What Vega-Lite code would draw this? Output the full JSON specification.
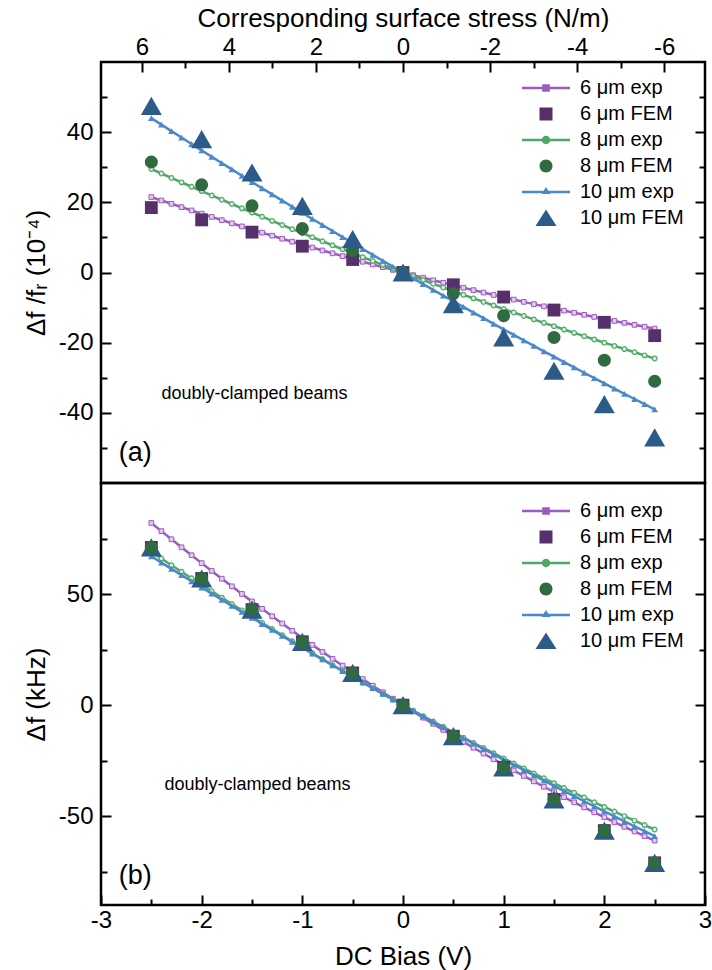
{
  "$schema": "https://vega.github.io/schema/vega-lite/v6.json",
  "background": "white",
  "padding": {"left": 22, "top": 3, "right": 0, "bottom": 0},
  "spacing": 0,
  "bounds": "flush",
  "config": {
    "font": "Liberation Sans",
    "view": {"stroke": "black", "strokeWidth": 2.5},
    "concat": {"spacing": 0},
    "axis": {"grid": false, "domain": false, "tickColor": "black", "tickWidth": 2, "labelFont": "Liberation Sans", "labelFontSize": 24, "labelColor": "black", "labelFlush": false, "labelOverlap": false, "titleFont": "Liberation Sans", "titleFontSize": 26, "titleFontWeight": "normal", "titleColor": "black"},
    "legend": {"labelFont": "Liberation Sans", "labelFontSize": 20, "labelColor": "black"}
  },
  "datasets": {
    "exp": [
      {"v": -2.5, "a6": 21.5, "a8": 29.5, "a10": 44.0, "b6": 82.0, "b8": 69.0, "b10": 67.0},
      {"v": -2.4, "a6": 20.53, "a8": 28.22, "a10": 42.14, "b6": 78.32, "b8": 65.99, "b10": 64.17},
      {"v": -2.3, "a6": 19.58, "a8": 26.96, "a10": 40.3, "b6": 74.67, "b8": 63.0, "b10": 61.35},
      {"v": -2.2, "a6": 18.63, "a8": 25.7, "a10": 38.46, "b6": 71.05, "b8": 60.03, "b10": 58.54},
      {"v": -2.1, "a6": 17.69, "a8": 24.44, "a10": 36.62, "b6": 67.47, "b8": 57.09, "b10": 55.74},
      {"v": -2.0, "a6": 16.76, "a8": 23.2, "a10": 34.8, "b6": 63.92, "b8": 54.16, "b10": 52.96},
      {"v": -1.9, "a6": 15.84, "a8": 21.96, "a10": 32.98, "b6": 60.4, "b8": 51.25, "b10": 50.19},
      {"v": -1.8, "a6": 14.93, "a8": 20.74, "a10": 31.18, "b6": 56.92, "b8": 48.37, "b10": 47.43},
      {"v": -1.7, "a6": 14.02, "a8": 19.52, "a10": 29.38, "b6": 53.48, "b8": 45.51, "b10": 44.69},
      {"v": -1.6, "a6": 13.13, "a8": 18.3, "a10": 27.58, "b6": 50.06, "b8": 42.66, "b10": 41.96},
      {"v": -1.5, "a6": 12.24, "a8": 17.1, "a10": 25.8, "b6": 46.68, "b8": 39.84, "b10": 39.24},
      {"v": -1.4, "a6": 11.36, "a8": 15.9, "a10": 24.02, "b6": 43.33, "b8": 37.04, "b10": 36.53},
      {"v": -1.3, "a6": 10.49, "a8": 14.72, "a10": 22.26, "b6": 40.02, "b8": 34.26, "b10": 33.84},
      {"v": -1.2, "a6": 9.63, "a8": 13.54, "a10": 20.5, "b6": 36.74, "b8": 31.5, "b10": 31.16},
      {"v": -1.1, "a6": 8.78, "a8": 12.36, "a10": 18.74, "b6": 33.49, "b8": 28.76, "b10": 28.49},
      {"v": -1.0, "a6": 7.94, "a8": 11.2, "a10": 17.0, "b6": 30.28, "b8": 26.04, "b10": 25.84},
      {"v": -0.9, "a6": 7.11, "a8": 10.04, "a10": 15.26, "b6": 27.1, "b8": 23.34, "b10": 23.2},
      {"v": -0.8, "a6": 6.28, "a8": 8.9, "a10": 13.54, "b6": 23.96, "b8": 20.67, "b10": 20.57},
      {"v": -0.7, "a6": 5.47, "a8": 7.76, "a10": 11.82, "b6": 20.84, "b8": 18.01, "b10": 17.95},
      {"v": -0.6, "a6": 4.66, "a8": 6.62, "a10": 10.1, "b6": 17.76, "b8": 15.37, "b10": 15.35},
      {"v": -0.5, "a6": 3.86, "a8": 5.5, "a10": 8.4, "b6": 14.72, "b8": 12.76, "b10": 12.76},
      {"v": -0.4, "a6": 3.07, "a8": 4.38, "a10": 6.7, "b6": 11.71, "b8": 10.17, "b10": 10.18},
      {"v": -0.3, "a6": 2.29, "a8": 3.28, "a10": 5.02, "b6": 8.73, "b8": 7.59, "b10": 7.62},
      {"v": -0.2, "a6": 1.52, "a8": 2.18, "a10": 3.34, "b6": 5.79, "b8": 5.04, "b10": 5.07},
      {"v": -0.1, "a6": 0.75, "a8": 1.08, "a10": 1.66, "b6": 2.88, "b8": 2.51, "b10": 2.53},
      {"v": 0.0, "a6": 0, "a8": 0, "a10": 0, "b6": 0, "b8": 0, "b10": 0},
      {"v": 0.1, "a6": -0.75, "a8": -1.08, "a10": -1.66, "b6": -2.84, "b8": -2.49, "b10": -2.51},
      {"v": 0.2, "a6": -1.48, "a8": -2.14, "a10": -3.3, "b6": -5.65, "b8": -4.96, "b10": -5.01},
      {"v": 0.3, "a6": -2.21, "a8": -3.2, "a10": -4.94, "b6": -8.43, "b8": -7.41, "b10": -7.5},
      {"v": 0.4, "a6": -2.93, "a8": -4.26, "a10": -6.58, "b6": -11.17, "b8": -9.83, "b10": -9.98},
      {"v": 0.5, "a6": -3.64, "a8": -5.3, "a10": -8.2, "b6": -13.88, "b8": -12.24, "b10": -12.44},
      {"v": 0.6, "a6": -4.34, "a8": -6.34, "a10": -9.82, "b6": -16.56, "b8": -14.63, "b10": -14.89},
      {"v": 0.7, "a6": -5.03, "a8": -7.36, "a10": -11.42, "b6": -19.2, "b8": -16.99, "b10": -17.33},
      {"v": 0.8, "a6": -5.72, "a8": -8.38, "a10": -13.02, "b6": -21.8, "b8": -19.33, "b10": -19.75},
      {"v": 0.9, "a6": -6.39, "a8": -9.4, "a10": -14.62, "b6": -24.38, "b8": -21.66, "b10": -22.16},
      {"v": 1.0, "a6": -7.06, "a8": -10.4, "a10": -16.2, "b6": -26.92, "b8": -23.96, "b10": -24.56},
      {"v": 1.1, "a6": -7.72, "a8": -11.4, "a10": -17.78, "b6": -29.43, "b8": -26.24, "b10": -26.95},
      {"v": 1.2, "a6": -8.37, "a8": -12.38, "a10": -19.34, "b6": -31.9, "b8": -28.5, "b10": -29.32},
      {"v": 1.3, "a6": -9.01, "a8": -13.36, "a10": -20.9, "b6": -34.34, "b8": -30.74, "b10": -31.68},
      {"v": 1.4, "a6": -9.64, "a8": -14.34, "a10": -22.46, "b6": -36.75, "b8": -32.96, "b10": -34.03},
      {"v": 1.5, "a6": -10.26, "a8": -15.3, "a10": -24.0, "b6": -39.12, "b8": -35.16, "b10": -36.36},
      {"v": 1.6, "a6": -10.87, "a8": -16.26, "a10": -25.54, "b6": -41.46, "b8": -37.34, "b10": -38.68},
      {"v": 1.7, "a6": -11.48, "a8": -17.2, "a10": -27.06, "b6": -43.76, "b8": -39.49, "b10": -40.99},
      {"v": 1.8, "a6": -12.07, "a8": -18.14, "a10": -28.58, "b6": -46.04, "b8": -41.63, "b10": -43.29},
      {"v": 1.9, "a6": -12.66, "a8": -19.08, "a10": -30.1, "b6": -48.28, "b8": -43.75, "b10": -45.57},
      {"v": 2.0, "a6": -13.24, "a8": -20.0, "a10": -31.6, "b6": -50.48, "b8": -45.84, "b10": -47.84},
      {"v": 2.1, "a6": -13.81, "a8": -20.92, "a10": -33.1, "b6": -52.65, "b8": -47.91, "b10": -50.1},
      {"v": 2.2, "a6": -14.37, "a8": -21.82, "a10": -34.58, "b6": -54.79, "b8": -49.97, "b10": -52.34},
      {"v": 2.3, "a6": -14.92, "a8": -22.72, "a10": -36.06, "b6": -56.89, "b8": -52.0, "b10": -54.57},
      {"v": 2.4, "a6": -15.47, "a8": -23.62, "a10": -37.54, "b6": -58.96, "b8": -54.01, "b10": -56.79},
      {"v": 2.5, "a6": -16.0, "a8": -24.5, "a10": -39.0, "b6": -61.0, "b8": -56.0, "b10": -59.0}
    ],
    "fem": [
      {"v": -2.5, "a6": 18.5, "a8": 31.5, "a10": 47.5, "b": 71},
      {"v": -2.0, "a6": 15.0, "a8": 25.0, "a10": 38.0, "b": 57},
      {"v": -1.5, "a6": 11.5, "a8": 19.0, "a10": 28.5, "b": 43},
      {"v": -1.0, "a6": 7.5, "a8": 12.5, "a10": 19.0, "b": 28.5},
      {"v": -0.5, "a6": 3.7, "a8": 6.3, "a10": 9.5, "b": 14.5},
      {"v": 0.0, "a6": 0, "a8": 0, "a10": 0, "b": 0},
      {"v": 0.5, "a6": -3.5, "a8": -6.0, "a10": -9.0, "b": -14},
      {"v": 1.0, "a6": -7.0, "a8": -12.3, "a10": -18.5, "b": -28},
      {"v": 1.5, "a6": -10.7, "a8": -18.5, "a10": -28.0, "b": -42.5},
      {"v": 2.0, "a6": -14.2, "a8": -25.0, "a10": -37.5, "b": -56.5},
      {"v": 2.5, "a6": -18.0, "a8": -31.0, "a10": -47.0, "b": -71}
    ]
  },
  "vconcat": [
    {
      "width": 604,
      "height": 421,
      "layer": [
        {
          "layer": [
            {
              "data": {"name": "exp"},
              "transform": [{"fold": ["a6"], "as": ["s", "y"]}],
              "mark": {"type": "line", "color": "#9b5bbf", "strokeWidth": 2.5},
              "encoding": {
                "x": {"field": "v", "type": "quantitative", "scale": {"domain": [-3, 3], "nice": false, "zero": false}, "axis": null},
                "y": {"field": "y", "type": "quantitative", "scale": {"domain": [-60, 60], "nice": false, "zero": false},
                  "axis": {"orient": "left", "title": "Δf /fᵣ (10⁻⁴)", "values": [-50, -40, -30, -20, -10, 0, 10, 20, 30, 40, 50],
                    "labelExpr": "datum.value % 20 == 0 ? '' + datum.value : ''",
                    "tickSize": {"condition": {"test": "datum.value % 20 == 0", "value": -10}, "value": -6},
                    "labelPadding": 18, "titlePadding": 9}}
              }
            },
            {
              "data": {"name": "exp"},
              "transform": [{"fold": ["a6"], "as": ["s", "y"]}],
              "mark": {"type": "point", "shape": "square", "size": 22, "filled": true, "fill": "#e3c9ee", "stroke": "#9b5bbf", "strokeWidth": 1, "opacity": 1},
              "encoding": {
                "x": {"field": "v", "type": "quantitative", "scale": {"domain": [-3, 3], "nice": false, "zero": false}, "axis": null},
                "y": {"field": "y", "type": "quantitative", "scale": {"domain": [-60, 60], "nice": false, "zero": false}, "axis": null}
              }
            },
            {
              "data": {"name": "exp"},
              "transform": [{"fold": ["a8"], "as": ["s", "y"]}],
              "mark": {"type": "line", "color": "#4fa868", "strokeWidth": 2.5},
              "encoding": {
                "x": {"field": "v", "type": "quantitative", "scale": {"domain": [-3, 3], "nice": false, "zero": false}, "axis": null},
                "y": {"field": "y", "type": "quantitative", "scale": {"domain": [-60, 60], "nice": false, "zero": false}, "axis": null}
              }
            },
            {
              "data": {"name": "exp"},
              "transform": [{"fold": ["a8"], "as": ["s", "y"]}],
              "mark": {"type": "point", "shape": "circle", "size": 22, "filled": true, "fill": "#d9efdf", "stroke": "#4fa868", "strokeWidth": 1.2, "opacity": 1},
              "encoding": {
                "x": {"field": "v", "type": "quantitative", "scale": {"domain": [-3, 3], "nice": false, "zero": false}, "axis": null},
                "y": {"field": "y", "type": "quantitative", "scale": {"domain": [-60, 60], "nice": false, "zero": false}, "axis": null}
              }
            },
            {
              "data": {"name": "exp"},
              "transform": [{"fold": ["a10"], "as": ["s", "y"]}],
              "mark": {"type": "line", "color": "#4b89c9", "strokeWidth": 2.5},
              "encoding": {
                "x": {"field": "v", "type": "quantitative", "scale": {"domain": [-3, 3], "nice": false, "zero": false}, "axis": null},
                "y": {"field": "y", "type": "quantitative", "scale": {"domain": [-60, 60], "nice": false, "zero": false}, "axis": null}
              }
            },
            {
              "data": {"name": "exp"},
              "transform": [{"fold": ["a10"], "as": ["s", "y"]}],
              "mark": {"type": "point", "shape": "triangle-up", "size": 45, "filled": true, "color": "#4b89c9", "opacity": 1},
              "encoding": {
                "x": {"field": "v", "type": "quantitative", "scale": {"domain": [-3, 3], "nice": false, "zero": false}, "axis": null},
                "y": {"field": "y", "type": "quantitative", "scale": {"domain": [-60, 60], "nice": false, "zero": false}, "axis": null}
              }
            },
            {
              "data": {"name": "fem"},
              "transform": [{"fold": ["a6"], "as": ["s", "y"]}],
              "mark": {"type": "point", "shape": "square", "size": 165, "filled": true, "color": "#55306b", "opacity": 1},
              "encoding": {
                "x": {"field": "v", "type": "quantitative", "scale": {"domain": [-3, 3], "nice": false, "zero": false}, "axis": null},
                "y": {"field": "y", "type": "quantitative", "scale": {"domain": [-60, 60], "nice": false, "zero": false}, "axis": null}
              }
            },
            {
              "data": {"name": "fem"},
              "transform": [{"fold": ["a8"], "as": ["s", "y"]}],
              "mark": {"type": "point", "shape": "circle", "size": 170, "filled": true, "color": "#2f6a40", "opacity": 1},
              "encoding": {
                "x": {"field": "v", "type": "quantitative", "scale": {"domain": [-3, 3], "nice": false, "zero": false}, "axis": null},
                "y": {"field": "y", "type": "quantitative", "scale": {"domain": [-60, 60], "nice": false, "zero": false}, "axis": null}
              }
            },
            {
              "data": {"name": "fem"},
              "transform": [{"fold": ["a10"], "as": ["s", "y"]}],
              "mark": {"type": "point", "shape": "triangle-up", "size": 440, "filled": true, "color": "#2d5b88", "opacity": 1},
              "encoding": {
                "x": {"field": "v", "type": "quantitative", "scale": {"domain": [-3, 3], "nice": false, "zero": false}, "axis": null},
                "y": {"field": "y", "type": "quantitative", "scale": {"domain": [-60, 60], "nice": false, "zero": false}, "axis": null}
              }
            },
            {
              "data": {"values": [{"label": "doubly-clamped beams"}]},
              "mark": {"type": "text", "align": "left", "baseline": "middle", "fontSize": 18, "font": "Liberation Sans", "color": "black"},
              "encoding": {
                "text": {"field": "label", "type": "nominal"},
                "x": {"datum": -2.4, "type": "quantitative", "scale": {"domain": [-3, 3], "nice": false, "zero": false}, "axis": null},
                "y": {"datum": -34.5, "type": "quantitative", "scale": {"domain": [-60, 60], "nice": false, "zero": false}, "axis": null}
              }
            },
            {
              "data": {"values": [{"label": "(a)"}]},
              "mark": {"type": "text", "align": "center", "baseline": "middle", "fontSize": 27, "font": "Liberation Sans", "color": "black"},
              "encoding": {
                "text": {"field": "label", "type": "nominal"},
                "x": {"datum": -2.66, "type": "quantitative", "scale": {"domain": [-3, 3], "nice": false, "zero": false}, "axis": null},
                "y": {"datum": -51.5, "type": "quantitative", "scale": {"domain": [-60, 60], "nice": false, "zero": false}, "axis": null}
              }
            },
            {
              "data": {"name": "fem"},
              "transform": [{"filter": "datum.v > 100"}],
              "mark": {"type": "point", "filled": true, "opacity": 1},
              "encoding": {
                "x": {"field": "v", "type": "quantitative", "scale": {"domain": [-3, 3], "nice": false, "zero": false}, "axis": null},
                "y": {"field": "y", "type": "quantitative", "scale": {"domain": [-60, 60], "nice": false, "zero": false},
                  "axis": {"orient": "right", "title": null, "labels": false, "values": [-50, -40, -30, -20, -10, 0, 10, 20, 30, 40, 50],
                    "tickSize": {"condition": {"test": "datum.value % 20 == 0", "value": -10}, "value": -6}}},
                "color": {"field": "series", "type": "nominal",
                  "scale": {"domain": ["6 μm exp", "6 μm FEM", "8 μm exp", "8 μm FEM", "10 μm exp", "10 μm FEM"],
                    "range": ["#9b5bbf", "#55306b", "#4fa868", "#2f6a40", "#4b89c9", "#2d5b88"]},
                  "legend": {"orient": "none", "legendX": 435, "legendY": 16, "title": null, "padding": 0, "symbolSize": 400, "labelOffset": 24, "labelFontSize": 20, "rowPadding": 6, "symbolStrokeWidth": 0, "labelLimit": 300}},
                "shape": {"field": "series", "type": "nominal",
                  "scale": {"domain": ["6 μm exp", "6 μm FEM", "8 μm exp", "8 μm FEM", "10 μm exp", "10 μm FEM"],
                    "range": [
                      "M-2.4,-0.12H2.4V0.12H-2.4Z M-0.38,-0.38H0.38V0.38H-0.38Z",
                      "M-0.65,-0.65H0.65V0.65H-0.65Z",
                      "M-2.4,-0.12H2.4V0.12H-2.4Z M0.42,0A0.42,0.42 0 1,1 -0.42,0A0.42,0.42 0 1,1 0.42,0Z",
                      "M0.65,0A0.65,0.65 0 1,1 -0.65,0A0.65,0.65 0 1,1 0.65,0Z",
                      "M-2.4,-0.12H2.4V0.12H-2.4Z M0,-0.5L0.45,0.2L-0.45,0.2Z",
                      "M0,-0.85L1.05,0.8L-1.05,0.8Z"
                    ]},
                  "legend": {"orient": "none", "legendX": 435, "legendY": 16, "title": null, "padding": 0, "symbolSize": 400, "labelOffset": 24, "labelFontSize": 20, "rowPadding": 6, "symbolStrokeWidth": 0, "labelLimit": 300}}
              }
            }
          ],
          "resolve": {"axis": {"x": "independent", "y": "independent"}}
        },
        {
          "data": {"name": "fem"},
          "transform": [{"filter": "datum.v > 100"}],
          "mark": {"type": "point", "opacity": 1},
          "encoding": {
            "x": {"field": "st", "type": "quantitative", "scale": {"domain": [-6.94, 6.94], "reverse": true, "nice": false, "zero": false},
              "axis": {"orient": "top", "title": "Corresponding surface stress (N/m)", "values": [-6, -5, -4, -3, -2, -1, 0, 1, 2, 3, 4, 5, 6],
                "labelExpr": "datum.value % 2 == 0 ? '' + datum.value : ''",
                "tickSize": {"condition": {"test": "datum.value % 2 == 0", "value": -10}, "value": -6},
                "labelPadding": 13, "titlePadding": 0}}
          }
        }
      ],
      "resolve": {"scale": {"x": "independent"}}
    },
    {
      "width": 604,
      "height": 422,
      "layer": [
        {
          "data": {"name": "exp"},
          "transform": [{"fold": ["b6"], "as": ["s", "y"]}],
          "mark": {"type": "line", "color": "#9b5bbf", "strokeWidth": 2.5},
          "encoding": {
            "x": {"field": "v", "type": "quantitative", "scale": {"domain": [-3, 3], "nice": false, "zero": false},
              "axis": {"orient": "bottom", "title": "DC Bias (V)", "values": [-3, -2.5, -2, -1.5, -1, -0.5, 0, 0.5, 1, 1.5, 2, 2.5, 3],
                "labelExpr": "datum.value % 1 == 0 ? '' + datum.value : ''",
                "tickSize": {"condition": {"test": "datum.value % 1 == 0", "value": -10}, "value": -6},
                "labelPadding": 13, "titlePadding": 7}},
            "y": {"field": "y", "type": "quantitative", "scale": {"domain": [-90, 100], "nice": false, "zero": false},
              "axis": {"orient": "left", "title": "Δf (kHz)", "values": [-75, -50, -25, 0, 25, 50, 75],
                "labelExpr": "datum.value % 50 == 0 ? '' + datum.value : ''",
                "tickSize": {"condition": {"test": "datum.value % 50 == 0", "value": -10}, "value": -6},
                "labelPadding": 18, "titlePadding": 9}}
          }
        },
        {
          "data": {"name": "exp"},
          "transform": [{"fold": ["b6"], "as": ["s", "y"]}],
          "mark": {"type": "point", "shape": "square", "size": 22, "filled": true, "fill": "#e3c9ee", "stroke": "#9b5bbf", "strokeWidth": 1, "opacity": 1},
          "encoding": {
            "x": {"field": "v", "type": "quantitative", "scale": {"domain": [-3, 3], "nice": false, "zero": false}, "axis": null},
            "y": {"field": "y", "type": "quantitative", "scale": {"domain": [-90, 100], "nice": false, "zero": false}, "axis": null}
          }
        },
        {
          "data": {"name": "exp"},
          "transform": [{"fold": ["b8"], "as": ["s", "y"]}],
          "mark": {"type": "line", "color": "#4fa868", "strokeWidth": 2.5},
          "encoding": {
            "x": {"field": "v", "type": "quantitative", "scale": {"domain": [-3, 3], "nice": false, "zero": false}, "axis": null},
            "y": {"field": "y", "type": "quantitative", "scale": {"domain": [-90, 100], "nice": false, "zero": false}, "axis": null}
          }
        },
        {
          "data": {"name": "exp"},
          "transform": [{"fold": ["b8"], "as": ["s", "y"]}],
          "mark": {"type": "point", "shape": "circle", "size": 22, "filled": true, "fill": "#d9efdf", "stroke": "#4fa868", "strokeWidth": 1.2, "opacity": 1},
          "encoding": {
            "x": {"field": "v", "type": "quantitative", "scale": {"domain": [-3, 3], "nice": false, "zero": false}, "axis": null},
            "y": {"field": "y", "type": "quantitative", "scale": {"domain": [-90, 100], "nice": false, "zero": false}, "axis": null}
          }
        },
        {
          "data": {"name": "exp"},
          "transform": [{"fold": ["b10"], "as": ["s", "y"]}],
          "mark": {"type": "line", "color": "#4b89c9", "strokeWidth": 2.5},
          "encoding": {
            "x": {"field": "v", "type": "quantitative", "scale": {"domain": [-3, 3], "nice": false, "zero": false}, "axis": null},
            "y": {"field": "y", "type": "quantitative", "scale": {"domain": [-90, 100], "nice": false, "zero": false}, "axis": null}
          }
        },
        {
          "data": {"name": "exp"},
          "transform": [{"fold": ["b10"], "as": ["s", "y"]}],
          "mark": {"type": "point", "shape": "triangle-up", "size": 45, "filled": true, "color": "#4b89c9", "opacity": 1},
          "encoding": {
            "x": {"field": "v", "type": "quantitative", "scale": {"domain": [-3, 3], "nice": false, "zero": false}, "axis": null},
            "y": {"field": "y", "type": "quantitative", "scale": {"domain": [-90, 100], "nice": false, "zero": false}, "axis": null}
          }
        },
        {
          "data": {"name": "fem"},
          "transform": [{"fold": ["b"], "as": ["s", "y"]}],
          "mark": {"type": "point", "shape": "square", "size": 165, "filled": true, "color": "#55306b", "opacity": 1},
          "encoding": {
            "x": {"field": "v", "type": "quantitative", "scale": {"domain": [-3, 3], "nice": false, "zero": false}, "axis": null},
            "y": {"field": "y", "type": "quantitative", "scale": {"domain": [-90, 100], "nice": false, "zero": false}, "axis": null}
          }
        },
        {
          "data": {"name": "fem"},
          "transform": [{"fold": ["b"], "as": ["s", "y"]}],
          "mark": {"type": "point", "shape": "triangle-up", "size": 440, "filled": true, "color": "#2d5b88", "opacity": 1},
          "encoding": {
            "x": {"field": "v", "type": "quantitative", "scale": {"domain": [-3, 3], "nice": false, "zero": false}, "axis": null},
            "y": {"field": "y", "type": "quantitative", "scale": {"domain": [-90, 100], "nice": false, "zero": false}, "axis": null}
          }
        },
        {
          "data": {"name": "fem"},
          "transform": [{"fold": ["b"], "as": ["s", "y"]}],
          "mark": {"type": "point", "shape": "circle", "size": 170, "filled": true, "color": "#2f6a40", "opacity": 1},
          "encoding": {
            "x": {"field": "v", "type": "quantitative", "scale": {"domain": [-3, 3], "nice": false, "zero": false}, "axis": null},
            "y": {"field": "y", "type": "quantitative", "scale": {"domain": [-90, 100], "nice": false, "zero": false}, "axis": null}
          }
        },
        {
          "data": {"values": [{"label": "doubly-clamped beams"}]},
          "mark": {"type": "text", "align": "left", "baseline": "middle", "fontSize": 18, "font": "Liberation Sans", "color": "black"},
          "encoding": {
            "text": {"field": "label", "type": "nominal"},
            "x": {"datum": -2.37, "type": "quantitative", "scale": {"domain": [-3, 3], "nice": false, "zero": false}, "axis": null},
            "y": {"datum": -36, "type": "quantitative", "scale": {"domain": [-90, 100], "nice": false, "zero": false}, "axis": null}
          }
        },
        {
          "data": {"values": [{"label": "(b)"}]},
          "mark": {"type": "text", "align": "center", "baseline": "middle", "fontSize": 27, "font": "Liberation Sans", "color": "black"},
          "encoding": {
            "text": {"field": "label", "type": "nominal"},
            "x": {"datum": -2.66, "type": "quantitative", "scale": {"domain": [-3, 3], "nice": false, "zero": false}, "axis": null},
            "y": {"datum": -77, "type": "quantitative", "scale": {"domain": [-90, 100], "nice": false, "zero": false}, "axis": null}
          }
        },
        {
          "data": {"name": "fem"},
          "transform": [{"filter": "datum.v > 100"}],
          "mark": {"type": "point", "filled": true, "opacity": 1},
          "encoding": {
            "x": {"field": "v", "type": "quantitative", "scale": {"domain": [-3, 3], "nice": false, "zero": false}, "axis": null},
            "y": {"field": "y", "type": "quantitative", "scale": {"domain": [-90, 100], "nice": false, "zero": false},
              "axis": {"orient": "right", "title": null, "labels": false, "values": [-75, -50, -25, 0, 25, 50, 75],
                "tickSize": {"condition": {"test": "datum.value % 50 == 0", "value": -10}, "value": -6}}},
            "color": {"field": "series", "type": "nominal",
              "scale": {"domain": ["6 μm exp", "6 μm FEM", "8 μm exp", "8 μm FEM", "10 μm exp", "10 μm FEM"],
                "range": ["#9b5bbf", "#55306b", "#4fa868", "#2f6a40", "#4b89c9", "#2d5b88"]},
              "legend": {"orient": "none", "legendX": 435, "legendY": 18, "title": null, "padding": 0, "symbolSize": 400, "labelOffset": 24, "labelFontSize": 20, "rowPadding": 6, "symbolStrokeWidth": 0, "labelLimit": 300}},
            "shape": {"field": "series", "type": "nominal",
              "scale": {"domain": ["6 μm exp", "6 μm FEM", "8 μm exp", "8 μm FEM", "10 μm exp", "10 μm FEM"],
                "range": [
                  "M-2.4,-0.12H2.4V0.12H-2.4Z M-0.38,-0.38H0.38V0.38H-0.38Z",
                  "M-0.65,-0.65H0.65V0.65H-0.65Z",
                  "M-2.4,-0.12H2.4V0.12H-2.4Z M0.42,0A0.42,0.42 0 1,1 -0.42,0A0.42,0.42 0 1,1 0.42,0Z",
                  "M0.65,0A0.65,0.65 0 1,1 -0.65,0A0.65,0.65 0 1,1 0.65,0Z",
                  "M-2.4,-0.12H2.4V0.12H-2.4Z M0,-0.5L0.45,0.2L-0.45,0.2Z",
                  "M0,-0.85L1.05,0.8L-1.05,0.8Z"
                ]},
              "legend": {"orient": "none", "legendX": 435, "legendY": 18, "title": null, "padding": 0, "symbolSize": 400, "labelOffset": 24, "labelFontSize": 20, "rowPadding": 6, "symbolStrokeWidth": 0, "labelLimit": 300}}
          }
        }
      ],
      "resolve": {"axis": {"x": "independent", "y": "independent"}}
    }
  ],
  "resolve": {"scale": {"color": "independent", "shape": "independent"}}
}
